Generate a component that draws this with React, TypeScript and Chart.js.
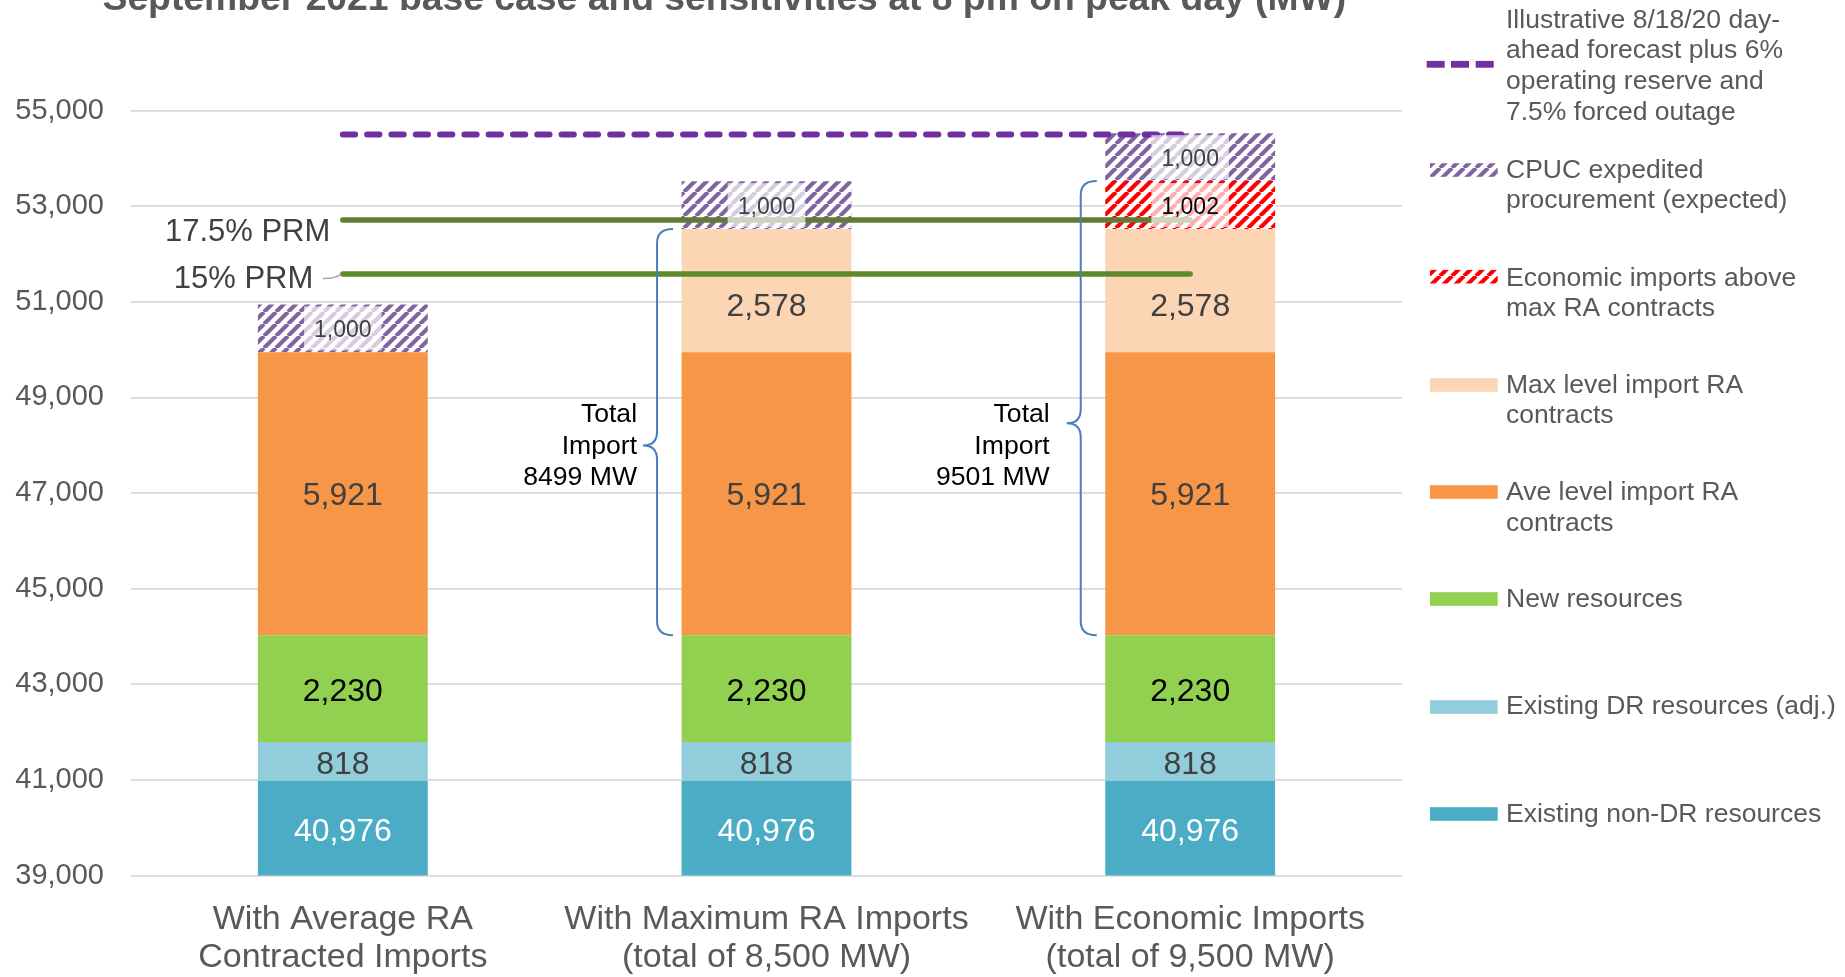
import React, { useEffect, useRef } from "react";
import { Chart, registerables } from "chart.js";
Chart.register(...registerables);

// ---------- DATA ----------
const categories: string[][] = [
  ["With Average RA", "Contracted Imports"],
  ["With Maximum RA Imports", "(total of 8,500 MW)"],
  ["With Economic Imports", "(total of 9,500 MW)"],
];
const existingNonDR = [40976, 40976, 40976];
const existingDR = [818, 818, 818];
const newResources = [2230, 2230, 2230];
const aveImportRA = [5921, 5921, 5921];
const maxImportRA: (number | null)[] = [null, 2578, 2578];
const economicImports: (number | null)[] = [null, null, 1002];
const cpucProcurement = [1000, 1000, 1000];
const forecastLine = [54500, 54500, 54500];
const prm175Line = [52713, 52713, 52713];
const prm15Line = [51584, 51584, 51584];
const yMin = 39000;
const yMax = 55000;
const yStep = 2000;

const titleText = "September 2021 base case and sensitivities at 8 pm on peak day (MW)";
const prm175Label = "17.5% PRM";
const prm15Label = "15% PRM";

const legendTexts: string[][] = [
  ["Illustrative 8/18/20 day-", "ahead forecast plus 6%", "operating reserve and", "7.5% forced outage"],
  ["CPUC expedited", "procurement (expected)"],
  ["Economic imports above", "max RA contracts"],
  ["Max level import RA", "contracts"],
  ["Ave level import RA", "contracts"],
  ["New resources"],
  ["Existing DR resources (adj.)"],
  ["Existing non-DR resources"],
];

// ---------- STYLE / LAYOUT ----------
const FONT = "'Liberation Sans', Arial, sans-serif";
const GRAY = "#595959";
const W = 1845;
const H = 977;
const AREA_LEFT = 131;
const AREA_RIGHT = 1402;
const AREA_TOP = 110.6;
const AREA_BOTTOM = 875.5;

const legendFirstLineY = [18.8, 168.8, 276.7, 383.8, 491.2, 598.3, 705.5, 813.3];
const legendSymbolY = [64.3, 170, 276.7, 385, 492, 599, 707, 814];

function makeHatch(color: string): CanvasPattern {
  const s = 12;
  const c = document.createElement("canvas");
  c.width = s;
  c.height = s;
  const g = c.getContext("2d")!;
  g.fillStyle = "#ffffff";
  g.fillRect(0, 0, s, s);
  g.strokeStyle = color;
  g.lineWidth = 4.2;
  g.beginPath();
  for (const o of [-s, 0, s]) {
    g.moveTo(o, s);
    g.lineTo(o + s, 0);
  }
  g.stroke();
  return g.createPattern(c, "repeat")!;
}

export default function App() {
  const ref = useRef<HTMLCanvasElement>(null);

  useEffect(() => {
    const canvas = ref.current!;
    const purpleHatch = makeHatch("#8064A2");
    const redHatch = makeHatch("#FF0000");

    const barDefs = [
      { label: "Existing non-DR resources", data: existingNonDR, bg: "#4BACC6", color: "#FFFFFF", size: 32, labelBg: false, dy: 3.5 },
      { label: "Existing DR resources (adj.)", data: existingDR, bg: "#92CDDC", color: "#404040", size: 32, labelBg: false, dy: 3.5 },
      { label: "New resources", data: newResources, bg: "#92D050", color: "#000000", size: 32, labelBg: false, dy: 3.5 },
      { label: "Ave level import RA contracts", data: aveImportRA, bg: "#F79646", color: "#404040", size: 32, labelBg: false, dy: 2 },
      { label: "Max level import RA contracts", data: maxImportRA, bg: "#FCD5B5", color: "#404040", size: 32, labelBg: false, dy: 17 },
      { label: "Economic imports above max RA contracts", data: economicImports, bg: redHatch as any, color: "#000000", size: 23, labelBg: true, dy: 3 },
      { label: "CPUC expedited procurement (expected)", data: cpucProcurement, bg: purpleHatch as any, color: "#404040", size: 23, labelBg: true, dy: 2.5 },
    ];

    const datasets: any[] = barDefs.map((d) => ({
      type: "bar",
      label: d.label,
      data: d.data,
      backgroundColor: d.bg,
      borderWidth: 0,
      stack: "bars",
      categoryPercentage: 1,
      barPercentage: 0.401,
    }));
    datasets.push(
      {
        type: "line",
        label: "Illustrative 8/18/20 day-ahead forecast plus 6% operating reserve and 7.5% forced outage",
        data: forecastLine,
        borderColor: "#7030A0",
        borderWidth: 6,
        borderDash: [12.3, 12],
        borderCapStyle: "round",
        pointRadius: 0,
        stack: "l1",
        order: -1,
      },
      {
        type: "line",
        label: prm175Label,
        data: prm175Line,
        borderColor: "#617B36",
        borderWidth: 5.5,
        borderCapStyle: "round",
        pointRadius: 0,
        stack: "l2",
        order: -1,
      },
      {
        type: "line",
        label: prm15Label,
        data: prm15Line,
        borderColor: "#5E8A2C",
        borderWidth: 5.5,
        borderCapStyle: "round",
        pointRadius: 0,
        stack: "l3",
        order: -1,
      }
    );

    const overlay = {
      id: "overlay",
      afterDatasetsDraw(chart: any) {
        const ctx: CanvasRenderingContext2D = chart.ctx;
        const area = chart.chartArea;
        const ys = chart.scales.y;
        ctx.save();

        // Braces for total import (categories 2 and 3)
        const fracs = [0.533, 0.533];
        const textDx = [-6, -17];
        [1, 2].forEach((j, k) => {
          const el = chart.getDatasetMeta(0).data[j];
          const left = el.x - el.width / 2;
          const below = existingNonDR[j] + existingDR[j] + newResources[j];
          const importTotal = aveImportRA[j] + (maxImportRA[j] || 0) + (economicImports[j] || 0);
          const yTop = ys.getPixelForValue(below + importTotal);
          const yBot = ys.getPixelForValue(below);
          const vx = left - 24.5;
          const hx = left - 8.5;
          const px = vx - 14;
          const mid = yTop + (yBot - yTop) * fracs[k];
          const r = 14;
          ctx.strokeStyle = "#4A7EBB";
          ctx.lineWidth = 2;
          ctx.beginPath();
          ctx.moveTo(hx, yTop);
          ctx.quadraticCurveTo(vx, yTop, vx, yTop + r);
          ctx.lineTo(vx, mid - r);
          ctx.quadraticCurveTo(vx, mid, px, mid);
          ctx.quadraticCurveTo(vx, mid, vx, mid + r);
          ctx.lineTo(vx, yBot - r);
          ctx.quadraticCurveTo(vx, yBot, hx, yBot);
          ctx.stroke();

          ctx.fillStyle = "#000000";
          ctx.font = `26.6px ${FONT}`;
          ctx.textAlign = "right";
          ctx.textBaseline = "alphabetic";
          const lines = ["Total", "Import", `${importTotal} MW`];
          const baselines = [421.7, 453.5, 485.3];
          lines.forEach((t, i) => ctx.fillText(t, px + textDx[k], baselines[i]));
        });

        // PRM labels
        const x0 = chart.getDatasetMeta(0).data[0].x;
        const y175 = ys.getPixelForValue(prm175Line[0]);
        const y15 = ys.getPixelForValue(prm15Line[0]);
        ctx.fillStyle = "#404040";
        ctx.font = `31px ${FONT}`;
        ctx.textAlign = "right";
        ctx.textBaseline = "middle";
        ctx.fillText(prm175Label, x0 - 12.5, y175 + 13);
        ctx.fillText(prm15Label, x0 - 29.5, y15 + 6);
        ctx.strokeStyle = "#A6A6A6";
        ctx.lineWidth = 1.5;
        ctx.beginPath();
        ctx.moveTo(x0 - 20, y15 + 4.5);
        ctx.quadraticCurveTo(x0 - 6, y15 + 4.5, x0 - 2, y15);
        ctx.stroke();

        // Segment value labels
        barDefs.forEach((def, di) => {
          const meta = chart.getDatasetMeta(di);
          meta.data.forEach((el: any, j: number) => {
            const v = def.data[j];
            if (v == null) return;
            const top = Math.max(Math.min(el.y, el.base), area.top);
            const bot = Math.min(Math.max(el.y, el.base), area.bottom);
            const cy = (top + bot) / 2;
            const text = v.toLocaleString("en-US");
            ctx.font = `${def.size}px ${FONT}`;
            if (def.labelBg) {
              const w = ctx.measureText(text).width + 20;
              ctx.fillStyle = "rgba(255,255,255,0.68)";
              ctx.fillRect(el.x - w / 2, cy - 22, w, 44);
            }
            ctx.fillStyle = def.color;
            ctx.textAlign = "center";
            ctx.textBaseline = "middle";
            ctx.fillText(text, el.x, cy + def.dy);
          });
        });
        ctx.restore();
      },
      afterDraw(chart: any) {
        const ctx: CanvasRenderingContext2D = chart.ctx;
        ctx.save();
        // Title (partly cut off at top)
        ctx.fillStyle = GRAY;
        ctx.font = `bold 37.3px ${FONT}`;
        ctx.textAlign = "left";
        ctx.textBaseline = "alphabetic";
        ctx.fillText(titleText, 102.5, 9.5);

        // Legend
        const symbols: { kind: string; fill: any }[] = [
          { kind: "dash", fill: "#7030A0" },
          { kind: "box", fill: purpleHatch },
          { kind: "box", fill: redHatch },
          { kind: "box", fill: "#FCD5B5" },
          { kind: "box", fill: "#F79646" },
          { kind: "box", fill: "#92D050" },
          { kind: "box", fill: "#92CDDC" },
          { kind: "box", fill: "#4BACC6" },
        ];
        symbols.forEach((s, i) => {
          const sy = legendSymbolY[i];
          ctx.fillStyle = s.fill;
          if (s.kind === "dash") {
            [1426.7, 1451, 1475.7].forEach((dx) => ctx.fillRect(dx, sy - 3.4, 18, 6.8));
          } else {
            ctx.fillRect(1430, sy - 6.8, 67.7, 13.6);
          }
          ctx.fillStyle = GRAY;
          ctx.font = `26.5px ${FONT}`;
          ctx.textAlign = "left";
          ctx.textBaseline = "middle";
          legendTexts[i].forEach((t, k) => ctx.fillText(t, 1506, legendFirstLineY[i] + 1.5 + k * 30.7));
        });
        ctx.restore();
      },
    };

    const chart = new Chart(canvas, {
      type: "bar",
      data: { labels: categories as any, datasets },
      options: {
        responsive: false,
        animation: false,
        events: [],
        devicePixelRatio: 1,
        layout: { padding: { top: AREA_TOP, right: W - AREA_RIGHT, left: 0, bottom: 0 } },
        plugins: { legend: { display: false }, tooltip: { enabled: false }, title: { display: false } },
        scales: {
          x: {
            stacked: true,
            grid: { display: false, drawTicks: false },
            border: { display: false },
            ticks: {
              color: GRAY,
              font: { family: FONT, size: 34, lineHeight: 1.12 },
              padding: 25.5,
              maxRotation: 0,
              autoSkip: false,
            },
            afterFit: (s: any) => {
              s.height = H - AREA_BOTTOM;
            },
          },
          y: {
            stacked: true,
            min: yMin,
            max: yMax,
            grid: { color: "#D9D9D9", lineWidth: 1.8, drawTicks: false },
            border: { display: false },
            ticks: {
              stepSize: yStep,
              color: GRAY,
              font: { family: FONT, size: 29 },
              padding: AREA_LEFT - 104,
            },
            afterFit: (s: any) => {
              s.width = AREA_LEFT;
            },
          },
        },
      } as any,
      plugins: [overlay],
    });
    return () => chart.destroy();
  }, []);

  return (
    <div style={{ position: "absolute", left: 0, top: 0, width: W, height: H }}>
      <canvas ref={ref} width={W} height={H} style={{ display: "block", width: W, height: H }} />
    </div>
  );
}
